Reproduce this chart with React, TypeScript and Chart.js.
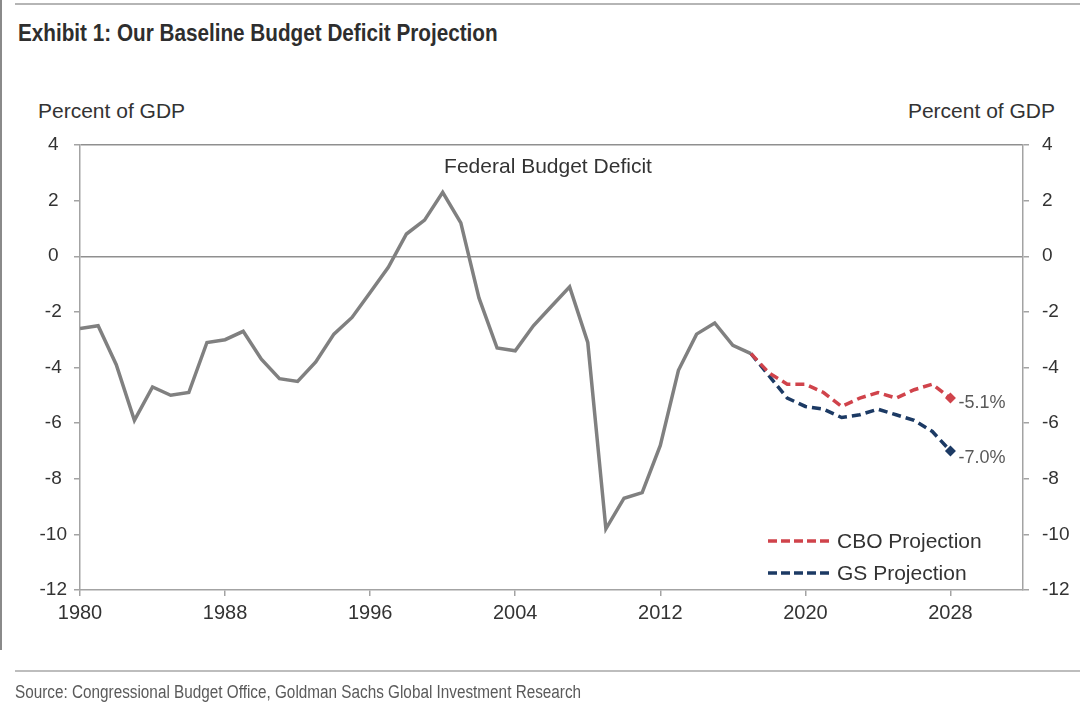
import React, { useEffect, useRef } from 'react';
import { Chart, registerables } from 'chart.js';

Chart.register(...registerables);

// ---- Data ----
const histYears = [
  1980, 1981, 1982, 1983, 1984, 1985, 1986, 1987, 1988, 1989,
  1990, 1991, 1992, 1993, 1994, 1995, 1996, 1997, 1998, 1999,
  2000, 2001, 2002, 2003, 2004, 2005, 2006, 2007, 2008, 2009,
  2010, 2011, 2012, 2013, 2014, 2015, 2016, 2017,
];
const histValues = [
  -2.6, -2.5, -3.9, -5.9, -4.7, -5.0, -4.9, -3.1, -3.0, -2.7,
  -3.7, -4.4, -4.5, -3.8, -2.8, -2.2, -1.3, -0.4, 0.8, 1.3,
  2.3, 1.2, -1.5, -3.3, -3.4, -2.5, -1.8, -1.1, -3.1, -9.8,
  -8.7, -8.5, -6.8, -4.1, -2.8, -2.4, -3.2, -3.5,
];
const projYears = [2017, 2018, 2019, 2020, 2021, 2022, 2023, 2024, 2025, 2026, 2027, 2028];
const cboValues = [-3.5, -4.2, -4.6, -4.6, -4.9, -5.4, -5.1, -4.9, -5.1, -4.8, -4.6, -5.1];
const gsValues = [-3.5, -4.3, -5.1, -5.4, -5.5, -5.8, -5.7, -5.5, -5.7, -5.9, -6.3, -7.0];

const xTicks = [1980, 1988, 1996, 2004, 2012, 2020, 2028];
const yTicks = [4, 2, 0, -2, -4, -6, -8, -10, -12];

const seriesNames = ['Federal Budget Deficit', 'CBO Projection', 'GS Projection'];
const titleText = 'Exhibit 1: Our Baseline Budget Deficit Projection';
const axisTitle = 'Percent of GDP';
const sourceText = 'Source: Congressional Budget Office, Goldman Sachs Global Investment Research';

const GREY = '#808080';
const RED = '#d0434b';
const NAVY = '#1c3a64';
const AXIS = '#a3a3a3';
const FONT = '"Liberation Sans", Arial, sans-serif';
const NARROW = '"Liberation Sans Narrow", "Liberation Sans", Arial, sans-serif';

export default function App() {
  const ref = useRef<HTMLCanvasElement>(null);

  useEffect(() => {
    const canvas = ref.current;
    if (!canvas) return;

    const overlay = {
      id: 'overlay',
      afterDatasetsDraw(chart: any) {
        const ctx = chart.ctx;
        const xs = chart.scales.x;
        const ys = chart.scales.y;
        const area = chart.chartArea;
        ctx.save();
        // Series label
        ctx.font = `21px ${FONT}`;
        ctx.fillStyle = '#333333';
        ctx.textAlign = 'center';
        ctx.textBaseline = 'middle';
        ctx.fillText(seriesNames[0], area.left + 468, area.top + 22);

        // End labels
        ctx.font = `18px ${FONT}`;
        ctx.fillStyle = '#595959';
        ctx.textAlign = 'left';
        const lastYear = projYears[projYears.length - 1];
        const cLast = cboValues[cboValues.length - 1];
        const gLast = gsValues[gsValues.length - 1];
        ctx.fillText(cLast.toFixed(1) + '%', xs.getPixelForValue(lastYear) + 8, ys.getPixelForValue(cLast) + 5);
        ctx.fillText(gLast.toFixed(1) + '%', xs.getPixelForValue(lastYear) + 8, ys.getPixelForValue(gLast) + 7);

        // Legend
        const items = [
          { name: seriesNames[1], color: RED, y: area.top + 396 },
          { name: seriesNames[2], color: NAVY, y: area.top + 428 },
        ];
        ctx.font = `21px ${FONT}`;
        items.forEach((it) => {
          ctx.save();
          ctx.strokeStyle = it.color;
          ctx.lineWidth = 3.5;
          ctx.setLineDash([9, 4]);
          ctx.beginPath();
          ctx.moveTo(area.left + 688, it.y);
          ctx.lineTo(area.left + 753, it.y);
          ctx.stroke();
          ctx.restore();
          ctx.fillStyle = '#333333';
          ctx.fillText(it.name, area.left + 757, it.y + 1);
        });
        ctx.restore();
      },
    };

    const lastIdx = projYears.length - 1;
    const chart = new Chart(canvas, {
      type: 'line',
      data: {
        datasets: [
          {
            label: seriesNames[0],
            data: histYears.map((x, i) => ({ x, y: histValues[i] })),
            borderColor: GREY,
            borderWidth: 3.5,
            pointRadius: 0,
            tension: 0,
            order: 3,
          },
          {
            label: seriesNames[2],
            data: projYears.map((x, i) => ({ x, y: gsValues[i] })),
            borderColor: NAVY,
            backgroundColor: NAVY,
            borderWidth: 3.5,
            borderDash: [9, 5],
            pointStyle: 'rectRot',
            pointRadius: (c: any) => (c.dataIndex === lastIdx ? 5.5 : 0),
            pointBorderWidth: 0,
            pointBackgroundColor: NAVY,
            order: 2,
          },
          {
            label: seriesNames[1],
            data: projYears.map((x, i) => ({ x, y: cboValues[i] })),
            borderColor: RED,
            backgroundColor: RED,
            borderWidth: 3.5,
            borderDash: [9, 5],
            pointStyle: 'rectRot',
            pointRadius: (c: any) => (c.dataIndex === lastIdx ? 5.5 : 0),
            pointBorderWidth: 0,
            pointBackgroundColor: RED,
            order: 1,
          },
        ],
      },
      options: {
        responsive: false,
        animation: false,
        devicePixelRatio: 1,
        layout: { padding: { top: 145, left: 0, right: 0, bottom: 0 } },
        plugins: { legend: { display: false }, tooltip: { enabled: false }, title: { display: false } },
        scales: {
          x: {
            type: 'linear',
            min: 1980,
            max: 2032,
            afterBuildTicks: (s: any) => {
              s.ticks = xTicks.map((v) => ({ value: v }));
            },
            afterFit: (s: any) => {
              s.height = 115;
            },
            ticks: {
              callback: (v: any) => String(v),
              font: { size: 20, family: FONT },
              color: '#333333',
              padding: 5,
              maxRotation: 0,
              autoSkip: false,
            },
            grid: { drawOnChartArea: false, tickLength: 6, tickColor: AXIS, lineWidth: 1.5 },
            border: { color: AXIS, width: 1.5 },
          },
          y: {
            position: 'left',
            min: -12,
            max: 4,
            afterBuildTicks: (s: any) => {
              s.ticks = yTicks.map((v) => ({ value: v }));
            },
            afterFit: (s: any) => {
              s.width = 80;
            },
            ticks: {
              callback: (v: any) => String(v),
              font: { size: 19, family: FONT },
              color: '#333333',
              crossAlign: 'center',
              padding: 7,
            },
            grid: {
              color: (c: any) => (c.tick && (c.tick.value === 0 || c.tick.value === 4) ? '#8f8f8f' : 'rgba(0,0,0,0)'),
              lineWidth: 1.5,
              tickLength: 6,
              tickColor: AXIS,
            },
            border: { color: AXIS, width: 1.5 },
          },
          y2: {
            position: 'right',
            min: -12,
            max: 4,
            afterBuildTicks: (s: any) => {
              s.ticks = yTicks.map((v) => ({ value: v }));
            },
            afterFit: (s: any) => {
              s.width = 57;
            },
            ticks: {
              callback: (v: any) => String(v),
              font: { size: 19, family: FONT },
              color: '#333333',
              padding: 13,
            },
            grid: { drawOnChartArea: false, tickLength: 6, tickColor: AXIS, lineWidth: 1.5 },
            border: { color: AXIS, width: 1.5 },
          },
        },
      },
      plugins: [overlay],
    } as any);

    return () => chart.destroy();
  }, []);

  return (
    <div
      style={{
        position: 'absolute',
        left: 0,
        top: 0,
        width: 1080,
        height: 705,
        background: '#ffffff',
        overflow: 'hidden',
      }}
    >
      <div style={{ position: 'absolute', left: 0, top: 0, width: 2, height: 650, background: '#8a8a8a' }} />
      <div style={{ position: 'absolute', left: 15, top: 3, width: 1065, height: 2, background: '#b5b5b5' }} />
      <div
        style={{
          position: 'absolute',
          left: 18,
          top: 20,
          fontFamily: NARROW,
          fontWeight: 'bold',
          fontSize: 23,
          lineHeight: '26px',
          color: '#2e2e2e',
          whiteSpace: 'nowrap',
          transform: 'scaleX(0.9)',
          transformOrigin: 'left center',
        }}
      >
        {titleText}
      </div>
      <div
        style={{
          position: 'absolute',
          left: 38,
          top: 98,
          fontFamily: FONT,
          fontSize: 21,
          lineHeight: '26px',
          color: '#333333',
          whiteSpace: 'nowrap',
        }}
      >
        {axisTitle}
      </div>
      <div
        style={{
          position: 'absolute',
          right: 25,
          top: 98,
          fontFamily: FONT,
          fontSize: 21,
          lineHeight: '26px',
          color: '#333333',
          whiteSpace: 'nowrap',
          textAlign: 'right',
        }}
      >
        {axisTitle}
      </div>
      <canvas ref={ref} width={1080} height={705} style={{ position: 'absolute', left: 0, top: 0, width: 1080, height: 705 }} />
      <div style={{ position: 'absolute', left: 15, top: 670, width: 1065, height: 2, background: '#bdbdbd' }} />
      <div
        style={{
          position: 'absolute',
          left: 15,
          top: 682,
          fontFamily: NARROW,
          fontSize: 18,
          lineHeight: '20px',
          color: '#5a5a5a',
          whiteSpace: 'nowrap',
          transform: 'scaleX(0.85)',
          transformOrigin: 'left center',
        }}
      >
        {sourceText}
      </div>
    </div>
  );
}
